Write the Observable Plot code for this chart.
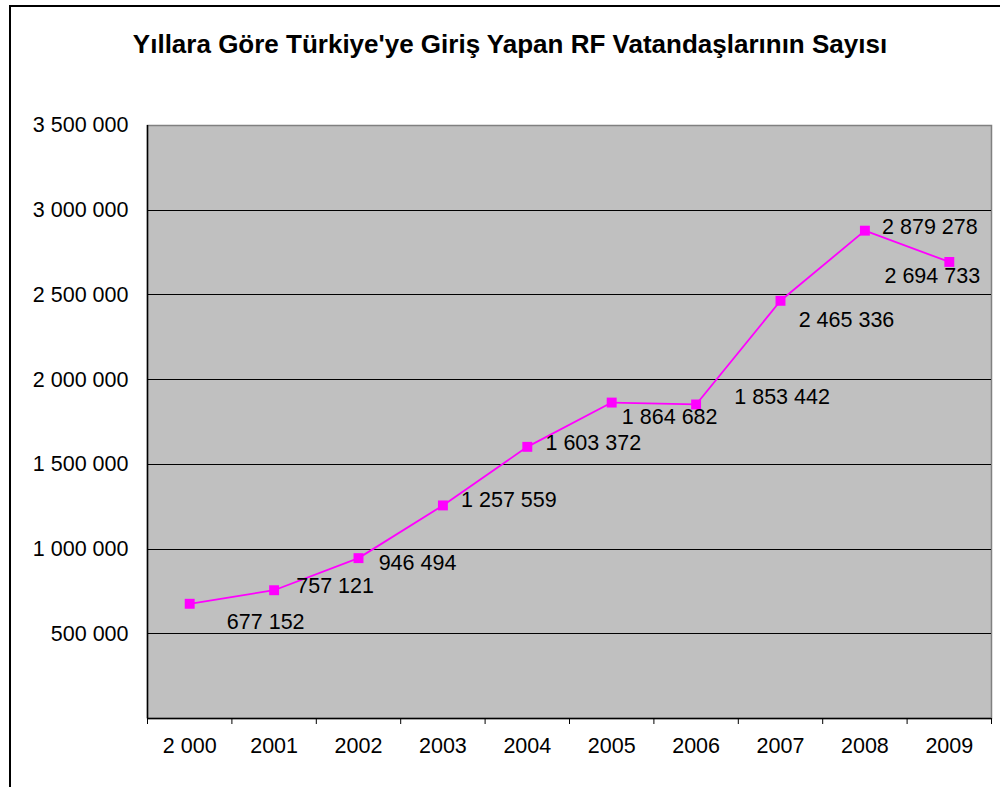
<!DOCTYPE html>
<html>
<head>
<meta charset="utf-8">
<script src="https://cdn.jsdelivr.net/npm/d3@7"></script>
<script src="https://cdn.jsdelivr.net/npm/@observablehq/plot@0.6"></script>
<style>
  html, body { margin: 0; padding: 0; background: #fff; overflow: hidden; }
  #wrap { position: relative; width: 1000px; height: 787px; font-family: "Liberation Sans", Arial, sans-serif; }
  #border { position: absolute; left: 9px; top: 5px; width: 1100px; height: 900px; border-left: 2px solid #000; border-top: 2px solid #000; pointer-events: none; }
  #title { height: 90px; box-sizing: border-box; padding-top: 29px; padding-left: 20px; text-align: center; font-size: 26px; font-weight: bold; line-height: 30px; color: #000; white-space: nowrap; }
  svg { display: block; }
</style>
</head>
<body>
<div id="wrap">
  <div id="title">Yıllara Göre Türkiye'ye Giriş Yapan RF Vatandaşlarının Sayısı</div>
  <div id="chart"></div>
  <div id="border"></div>
</div>
<script>
// Data
const yearLabels = ["2 000", "2001", "2002", "2003", "2004", "2005", "2006", "2007", "2008", "2009"];
const visitors = [677152, 757121, 946494, 1257559, 1603372, 1864682, 1853442, 2465336, 2879278, 2694733];
const yTicks = [0, 500000, 1000000, 1500000, 2000000, 2500000, 3000000, 3500000];

// Label placement (styling, as in the original chart)
const labelOffsets = [[76, 18], [61, -4], [59, 5], [66, -5], [66, -4], [58, 15], [86, -7], [66, 19], [65, -4], [-17, 14]];

const fmt = d => d3.format(",")(d).replace(/,/g, " ");
const data = visitors.map((v, i) => ({ i: i + 0.5, v, label: fmt(v) }));

const chart = Plot.plot({
  width: 1000,
  height: 697,
  marginTop: 35,
  marginBottom: 69,
  marginLeft: 147,
  marginRight: 9,
  style: { fontFamily: "'Liberation Sans', Arial, sans-serif", fontSize: "21.5px", color: "#000", background: "transparent" },
  x: { domain: [0, yearLabels.length], axis: null },
  y: { domain: [0, 3500000], axis: null },
  marks: [
    Plot.frame({ fill: "#C0C0C0", stroke: "#808080", strokeWidth: 1.5 }),
    Plot.ruleY(yTicks.filter(t => t > 0 && t < 3500000), { stroke: "#000", strokeWidth: 1, shapeRendering: "crispEdges" }),
    Plot.ruleX([0], { stroke: "#000", strokeWidth: 1.5 }),
    Plot.ruleY([0], { stroke: "#000", strokeWidth: 1.5 }),
    Plot.axisY(yTicks, { tickSize: 6, tickPadding: 13, tickFormat: d => d === 0 ? "" : fmt(d), label: null, fontSize: 21.5, stroke: null }),
    Plot.axisX(d3.range(yearLabels.length + 1), { tickSize: 6, tickFormat: () => "", label: null }),
    Plot.axisX(yearLabels.map((_, i) => i + 0.5), { tickSize: 0, tickPadding: 19, tickFormat: d => yearLabels[Math.floor(d)], label: null, fontSize: 21.5 }),
    Plot.line(data, { x: "i", y: "v", stroke: "#FF00FF", strokeWidth: 1.8 }),
    Plot.dot(data, { x: "i", y: "v", symbol: "square", r: 5.6, fill: "#FF00FF", stroke: "none" }),
    ...data.map((d, k) => Plot.text([d], {
      x: "i", y: "v", text: "label", fill: "#000", fontSize: 21.5,
      textAnchor: "middle", dx: labelOffsets[k][0], dy: labelOffsets[k][1]
    }))
  ]
});
document.getElementById("chart").appendChild(chart);
</script>
</body>
</html>
